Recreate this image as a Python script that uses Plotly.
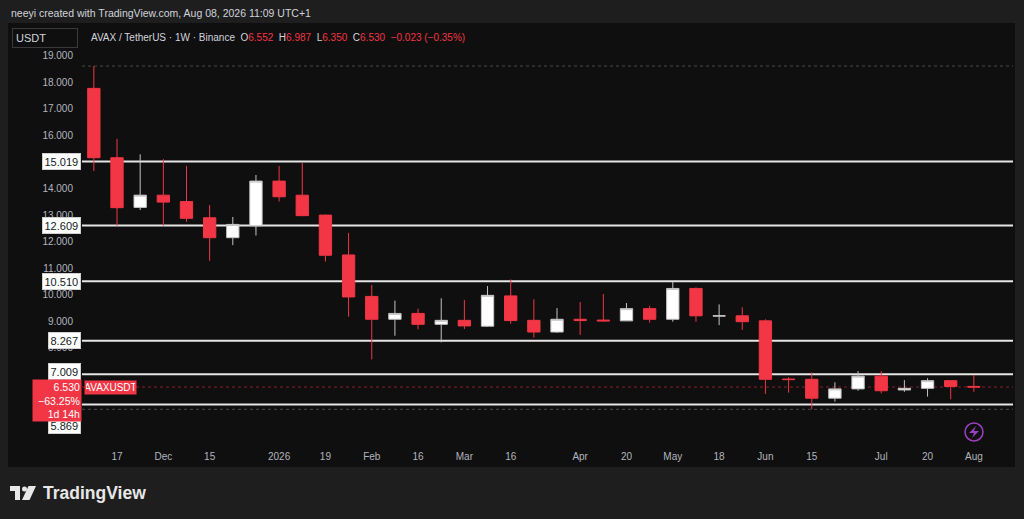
import plotly.graph_objects as go

# weekly AVAX/USDT candles (Binance, 1W)
weeks = ['2025-11-10', '2025-11-17', '2025-11-24', '2025-12-01', '2025-12-08',
         '2025-12-15', '2025-12-22', '2025-12-29', '2026-01-05', '2026-01-12',
         '2026-01-19', '2026-01-26', '2026-02-02', '2026-02-09', '2026-02-16',
         '2026-02-23', '2026-03-02', '2026-03-09', '2026-03-16', '2026-03-23',
         '2026-03-30', '2026-04-06', '2026-04-13', '2026-04-20', '2026-04-27',
         '2026-05-04', '2026-05-11', '2026-05-18', '2026-05-25', '2026-06-01',
         '2026-06-08', '2026-06-15', '2026-06-22', '2026-06-29', '2026-07-06',
         '2026-07-13', '2026-07-20', '2026-07-27', '2026-08-03']
opens = [17.77, 15.16, 13.29, 13.75, 13.51, 12.90, 12.15, 12.60, 14.28, 13.75,
         13.00, 11.50, 9.94, 9.08, 9.30, 8.89, 9.04, 8.82, 9.96, 9.04,
         8.60, 9.08, 9.05, 9.02, 9.48, 9.08, 10.24, 9.20, 9.21, 9.02,
         6.83, 6.82, 6.11, 6.46, 6.94, 6.42, 6.48, 6.77, 6.552]
highs = [18.61, 15.87, 15.29, 15.11, 14.85, 13.38, 12.93, 14.51, 14.85, 14.97,
         13.02, 12.33, 10.37, 9.78, 9.48, 9.87, 9.81, 10.33, 10.58, 9.83,
         9.50, 9.73, 10.03, 9.69, 9.58, 10.49, 10.28, 9.64, 9.53, 9.08,
         6.90, 7.08, 6.71, 7.13, 7.13, 6.79, 6.86, 6.78, 6.987]
lows = [14.66, 12.60, 13.19, 12.60, 12.75, 11.28, 11.87, 12.23, 13.51, 12.96,
        11.25, 9.18, 7.57, 8.46, 8.70, 8.21, 8.71, 8.80, 8.91, 8.39,
        8.57, 8.49, 8.99, 9.01, 8.95, 8.99, 8.99, 8.86, 8.68, 6.27,
        6.32, 5.69, 5.98, 6.39, 6.29, 6.35, 6.17, 6.07, 6.350]
closes = [15.16, 13.28, 13.75, 13.49, 12.88, 12.15, 12.65, 14.28, 13.69, 12.98,
          11.49, 9.92, 9.08, 9.30, 8.89, 9.04, 8.83, 9.98, 9.03, 8.60,
          9.08, 9.03, 9.02, 9.48, 9.08, 10.24, 9.21, 9.21, 8.99, 6.82,
          6.81, 6.11, 6.46, 6.94, 6.39, 6.48, 6.77, 6.553, 6.530]

# horizontal levels drawn on the chart
levels = [15.019, 12.609, 10.510, 8.267, 7.009, 5.869]
level_shift = [0, 0, 0, 0, 3, -21]

y_ticks = [5, 6, 7, 8, 9, 10, 11, 12, 13, 14, 15, 16, 17, 18, 19]
x_tickvals = ['2025-11-17', '2025-12-01', '2025-12-15', '2026-01-05', '2026-01-19',
              '2026-02-02', '2026-02-16', '2026-03-02', '2026-03-16', '2026-04-06',
              '2026-04-20', '2026-05-04', '2026-05-18', '2026-06-01', '2026-06-15',
              '2026-07-06', '2026-07-20', '2026-08-03']
x_ticktext = ['17', 'Dec', '15', '2026', '19', 'Feb', '16', 'Mar', '16', 'Apr',
              '20', 'May', '18', 'Jun', '15', 'Jul', '20', 'Aug']

RED = '#f23645'
FONT = 'Liberation Sans'

# plot box in pixels
L, R, T, B = 82, 1013, 24, 445
W, H = R - L, B - T


def px(x):
    return (x - L) / W


def py(y):
    return (B - y) / H


fig = go.Figure()
fig.add_trace(go.Candlestick(
    x=weeks, open=opens, high=highs, low=lows, close=closes,
    increasing=dict(line=dict(color='#c4c4c4', width=1), fillcolor='#ffffff'),
    decreasing=dict(line=dict(color=RED, width=1), fillcolor=RED),
    hoverinfo='skip', showlegend=False,
))

shapes = []
# chart panel
shapes.append(dict(type='rect', xref='paper', yref='paper', layer='below',
                   x0=px(8), x1=px(1015), y0=py(467), y1=py(23),
                   fillcolor='#0f0f0f', line=dict(width=0)))
for lv in levels:
    shapes.append(dict(type='line', xref='paper', yref='y', layer='below',
                       x0=0, x1=1, y0=lv, y1=lv,
                       line=dict(color='#e6e6e6', width=2)))
# high / low and last price lines
shapes.append(dict(type='line', xref='paper', yref='y', layer='below',
                   x0=0, x1=1, y0=max(highs), y1=max(highs),
                   line=dict(color='#4a4a4a', width=1, dash='dot')))
shapes.append(dict(type='line', xref='paper', yref='y', layer='below',
                   x0=0, x1=1, y0=min(lows), y1=min(lows),
                   line=dict(color='#4a4a4a', width=1, dash='dot')))
shapes.append(dict(type='line', xref='paper', yref='y', layer='below',
                   x0=0, x1=1, y0=closes[-1], y1=closes[-1],
                   line=dict(color='#8c1f2a', width=1, dash='dot')))
# lightning icon
shapes.append(dict(type='circle', xref='paper', yref='paper',
                   x0=px(965), x1=px(983), y0=py(441), y1=py(423),
                   line=dict(color='#9c3fc0', width=1.5)))
bolt = [(976, 426), (969, 433), (974, 433), (972, 438), (979, 431), (974, 431)]
shapes.append(dict(type='path', xref='paper', yref='paper',
                   path='M ' + ' L '.join(f'{px(a):.5f},{py(b):.5f}' for a, b in bolt) + ' Z',
                   fillcolor='#9c3fc0', line=dict(width=0)))
# TradingView logo mark
logo_t = [(10, 486), (20, 486), (20, 500), (15, 500), (15, 491), (10, 491)]
logo_s = [(28.5, 486), (36, 486), (29.5, 500), (22, 500)]
for poly in (logo_t, logo_s):
    shapes.append(dict(type='path', xref='paper', yref='paper',
                       path='M ' + ' L '.join(f'{px(a):.5f},{py(b):.5f}' for a, b in poly) + ' Z',
                       fillcolor='#e8e8e8', line=dict(width=0)))
shapes.append(dict(type='circle', xref='paper', yref='paper',
                   x0=px(22), x1=px(27), y0=py(491.5), y1=py(486.5),
                   fillcolor='#e8e8e8', line=dict(width=0)))

ann = []
for lv, sh in zip(levels, level_shift):
    ann.append(dict(xref='paper', yref='y', x=0, y=lv, xanchor='right', yanchor='middle',
                    xshift=-1, yshift=sh, text=f'{lv:.3f}', showarrow=False,
                    font=dict(family=FONT, size=11, color='#131722'),
                    bgcolor='#ffffff', bordercolor='#d0d0d0', borderwidth=1, borderpad=1.5))

pct = (closes[-1] / opens[0] - 1) * 100
ann.append(dict(xref='paper', yref='y', x=0, y=closes[-1], xanchor='right', yanchor='top',
                xshift=0, yshift=8, align='right', showarrow=False,
                text=f'{closes[-1]:.3f}<br>\u2212{abs(pct):.2f}%<br>1d 14h',
                font=dict(family=FONT, size=10.5, color='#ffffff'),
                bgcolor=RED, borderpad=1, width=46))
ann.append(dict(xref='paper', yref='y', x=0, y=closes[-1], xanchor='left', yanchor='middle',
                xshift=2, showarrow=False, text='AVAXUSDT',
                font=dict(family=FONT, size=10, color='#ffffff'),
                bgcolor=RED, borderpad=1, width=49))

# header texts
ann.append(dict(xref='paper', yref='paper', x=0, y=1, xanchor='left', yanchor='middle',
                xshift=9 - L, yshift=T - 13, showarrow=False,
                text='neeyi created with TradingView.com, Aug 08, 2026 11:09 UTC+1',
                font=dict(family=FONT, size=10.5, color='#d1d4dc')))
ann.append(dict(xref='paper', yref='paper', x=0, y=1, xanchor='left', yanchor='middle',
                xshift=12 - L, yshift=T - 37.5, showarrow=False, text='USDT', align='left',
                width=58, font=dict(family=FONT, size=11, color='#d1d4dc'),
                bordercolor='#3a3a3a', borderwidth=1, borderpad=3, bgcolor='#0f0f0f'))
chg = closes[-1] - closes[-2]
chg_pct = chg / closes[-2] * 100


def red(s):
    return f'<span style="color:{RED}">{s}</span>'


legend = ('AVAX / TetherUS \u00b7 1W \u00b7 Binance&nbsp;&nbsp;'
          f'O{red(f"{opens[-1]:.3f}")}&nbsp;&nbsp;H{red(f"{highs[-1]:.3f}")}&nbsp;&nbsp;'
          f'L{red(f"{lows[-1]:.3f}")}&nbsp;&nbsp;C{red(f"{closes[-1]:.3f}")}&nbsp;&nbsp;'
          + red(f'\u2212{abs(chg):.3f} (\u2212{abs(chg_pct):.2f}%)'))
ann.append(dict(xref='paper', yref='paper', x=0, y=1, xanchor='left', yanchor='middle',
                xshift=89 - L, yshift=T - 37, showarrow=False, text=legend,
                font=dict(family=FONT, size=10, color='#d1d4dc')))
ann.append(dict(xref='paper', yref='paper', x=0, y=0, xanchor='left', yanchor='middle',
                xshift=41 - L, yshift=B - 493, showarrow=False, text='<b>TradingView</b>',
                font=dict(family=FONT, size=17.5, color='#e8e8e8')))

fig.update_layout(
    width=1024, height=519,
    margin=dict(l=L, r=1024 - R, t=T, b=519 - B),
    paper_bgcolor='#1e1e1e', plot_bgcolor='#0f0f0f',
    boxgap=0.24,
    shapes=shapes, annotations=ann,
    font=dict(family=FONT, color='#b2b5be'),
    xaxis=dict(type='date', range=['2025-11-06 10:00', '2026-08-14 20:00'],
               rangeslider=dict(visible=False), showgrid=False, zeroline=False,
               showline=False, tickvals=x_tickvals, ticktext=x_ticktext,
               tickfont=dict(family=FONT, size=10, color='#b2b5be'),
               ticks='', ticklabelstandoff=4),
    yaxis=dict(range=[4.348, 20.193], side='left', showgrid=False, zeroline=False,
               showline=False, tickvals=y_ticks, tickformat='.3f', ticks='',
               ticklabelstandoff=8,
               tickfont=dict(family=FONT, size=10, color='#b2b5be')),
)

fig.write_html('out.html', config={'displayModeBar': False},
               post_script="document.body.style.margin='0';")
